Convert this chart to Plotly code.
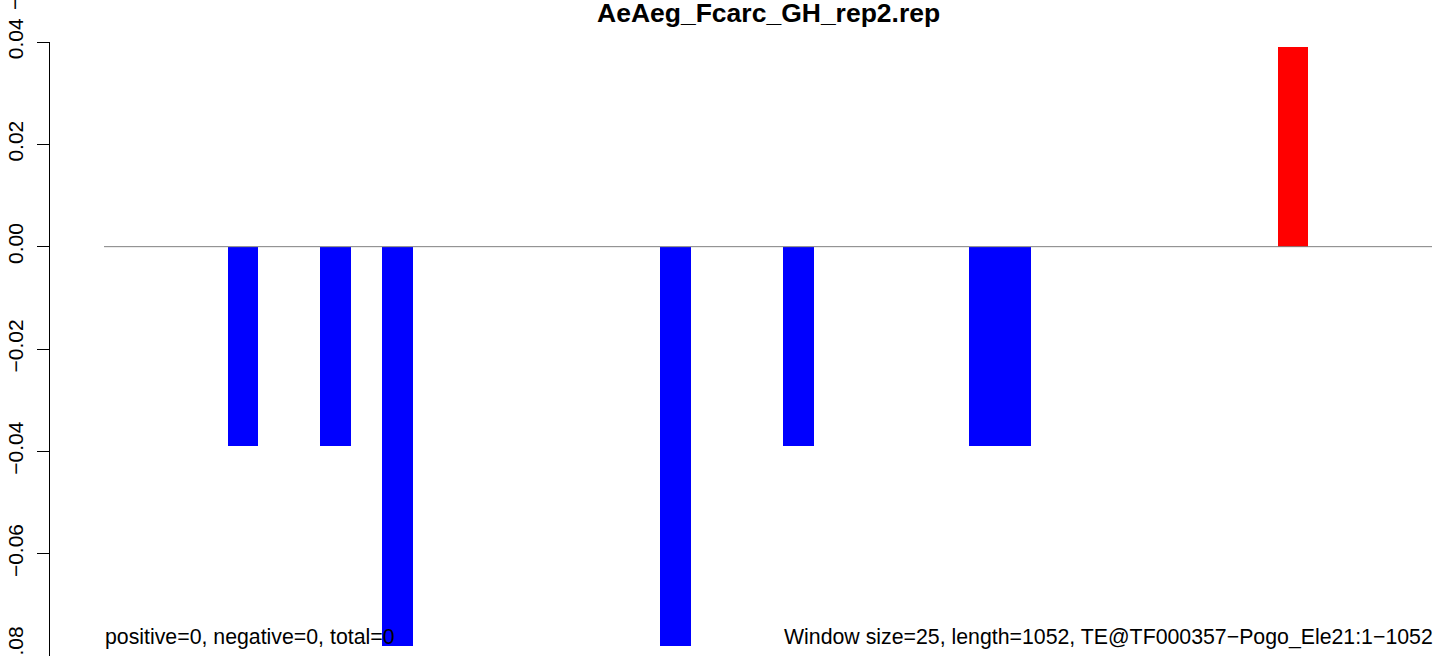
import plotly.graph_objects as go

# ---- data ----
window_index = list(range(43))
values = [0.0] * 43
neg_short = [4, 7, 22, 28, 29]
neg_long = [9, 18]
pos = [38]
for i in neg_short:
    values[i] = -0.039
for i in neg_long:
    values[i] = -0.078
for i in pos:
    values[i] = 0.039

y_tickvals = [-0.08, -0.06, -0.04, -0.02, 0.00, 0.02, 0.04]
y_ticktext = ["\u22120.08", "\u22120.06", "\u22120.04", "\u22120.02", "0.00", "0.02", "0.04"]

title_text = "AeAeg_Fcarc_GH_rep2.rep"
left_note = "positive=0, negative=0, total=0"
right_note = "Window size=25, length=1052, TE@TF000357\u2212Pogo_Ele21:1\u22121052"

colors = ["#FF0000" if v > 0 else "#0000FF" for v in values]

FONT = "Liberation Sans, Arial, Helvetica, sans-serif"

fig = go.Figure()
fig.add_trace(go.Bar(
    x=window_index, y=values, width=1.0,
    marker=dict(color=colors, line=dict(width=0)),
    hoverinfo="skip",
))

fig.update_layout(
    width=1444, height=656,
    margin=dict(l=50, r=12, t=42, b=0, autoexpand=False),
    paper_bgcolor="white", plot_bgcolor="white",
    showlegend=False, bargap=0,
    font=dict(family=FONT, color="black", size=21),
    xaxis=dict(range=[-2.249, 42.5], visible=False, fixedrange=True, automargin=False),
    yaxis=dict(
        range=[-0.08, 0.04], showgrid=False, zeroline=False, automargin=False,
        showline=True, linecolor="black", linewidth=1,
        ticks="outside", ticklen=12, tickwidth=1, tickcolor="black",
        tickvals=y_tickvals, ticktext=y_ticktext, tickangle=-90,
        tickfont=dict(family=FONT, size=21, color="black"),
        ticklabelstandoff=6, ticklabeloverflow="allow",
        fixedrange=True,
    ),
    shapes=[dict(type="line", xref="x", yref="y", x0=-0.5, x1=42.5, y0=0, y1=0,
                 line=dict(color="#808080", width=1), layer="above")],
    annotations=[
        dict(text="<b>" + title_text + "</b>", xref="x", yref="paper", x=21, y=1.0,
             yshift=29, showarrow=False, xanchor="center", yanchor="middle",
             font=dict(family=FONT, size=26.5, color="black")),
        dict(text=left_note, xref="x", yref="y", x=-0.5, y=-0.0763,
             showarrow=False, xanchor="left", yanchor="middle", xshift=-1,
             font=dict(family=FONT, size=21.3, color="black")),
        dict(text=right_note, xref="x", yref="y", x=42.5, y=-0.0763,
             showarrow=False, xanchor="right", yanchor="middle", xshift=3,
             font=dict(family=FONT, size=21.3, color="black")),
        dict(text="\u2212", xref="paper", yref="paper", x=0, y=1, xshift=-36, yshift=38,
             textangle=-90, showarrow=False, xanchor="center", yanchor="middle",
             font=dict(family=FONT, size=21, color="black")),
    ],
)

fig.write_html("out.html", config={"displayModeBar": False},
               post_script="document.body.style.margin='0';")
